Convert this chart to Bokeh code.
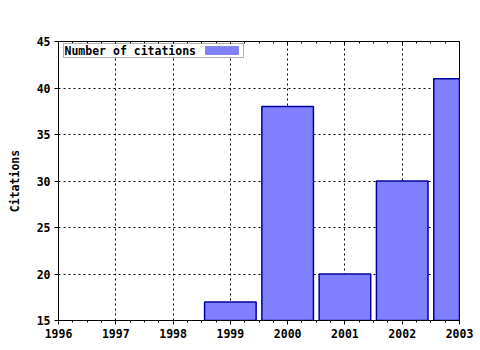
from bokeh.plotting import figure
from bokeh.models import FixedTicker, LinearAxis, Range1d, Label, BoxAnnotation
from bokeh.embed import file_html
from bokeh.resources import INLINE

years = [1999, 2000, 2001, 2002, 2003]
citations = [17, 38, 20, 30, 41]
x_ticks = [1996, 1997, 1998, 1999, 2000, 2001, 2002, 2003]
y_ticks = [15, 20, 25, 30, 35, 40, 45]
series_name = "Number of citations"
y_title = "Citations"

FONT = "DejaVu Sans Mono"
FS = "11.5px"

p = figure(width=480, height=350, output_backend="svg", toolbar_location=None,
           x_range=Range1d(1996, 2003), y_range=Range1d(15, 45),
           min_border_left=58, min_border_right=21, min_border_top=41, min_border_bottom=30,
           x_axis_location="below")
p.background_fill_color = "white"
p.border_fill_color = "white"
p.outline_line_color = "black"
p.outline_line_width = 1

p.vbar(x=years, top=citations, bottom=0, width=0.9,
       fill_color="#8080ff", line_color="#0000a0", line_width=1.5)

minor_x = [1996 + i * 0.25 for i in range(0, 29)]
xt = FixedTicker(ticks=x_ticks, minor_ticks=minor_x)
yt = FixedTicker(ticks=y_ticks)

xa = p.xaxis[0]
xa.ticker = xt
ya = p.yaxis[0]
ya.ticker = yt

for ax in (xa, ya):
    ax.major_label_text_font = FONT
    ax.major_label_text_font_size = FS
    ax.major_label_text_font_style = "bold"
    ax.major_label_text_color = "black"
    ax.axis_line_color = "black"
    ax.major_tick_line_color = "black"
    ax.minor_tick_line_color = "black"
    ax.major_tick_out = 4
    ax.major_tick_in = 0
    ax.minor_tick_out = 2
    ax.minor_tick_in = 0
    ax.major_label_standoff = 4

ya.axis_label = y_title
ya.axis_label_text_font = FONT
ya.axis_label_text_font_size = FS
ya.axis_label_text_font_style = "bold"
ya.axis_label_text_color = "black"
ya.axis_label_standoff = 12
ya.minor_tick_line_color = None

top = LinearAxis(ticker=FixedTicker(ticks=x_ticks, minor_ticks=minor_x),
                 major_label_overrides={t: "" for t in x_ticks},
                 major_label_text_font_size=FS, axis_line_color="black",
                 major_tick_in=4, major_tick_out=0, minor_tick_in=2, minor_tick_out=0)
p.add_layout(top, "above")

p.xgrid.ticker = xt
p.ygrid.ticker = yt
for g in (p.xgrid, p.ygrid):
    g.grid_line_color = "black"
    g.grid_line_dash = "2 3"
    g.grid_line_width = 1

# legend (text first, then swatch)
p.add_layout(BoxAnnotation(left=63, right=243, top=43, bottom=57,
                           left_units="canvas", right_units="canvas",
                           top_units="canvas", bottom_units="canvas",
                           fill_color="white", fill_alpha=1, line_color="black", line_width=1))
p.add_layout(BoxAnnotation(left=205, right=238, top=46, bottom=54,
                           left_units="canvas", right_units="canvas",
                           top_units="canvas", bottom_units="canvas",
                           fill_color="#8080ff", fill_alpha=1, line_color="#0000a0", line_width=1))
p.add_layout(Label(x=64, y=50, x_units="canvas", y_units="canvas", text=series_name,
                   text_font=FONT, text_font_size=FS, text_font_style="bold",
                   text_baseline="middle", text_color="black"))

open("out.html", "w").write(file_html(p, INLINE))
